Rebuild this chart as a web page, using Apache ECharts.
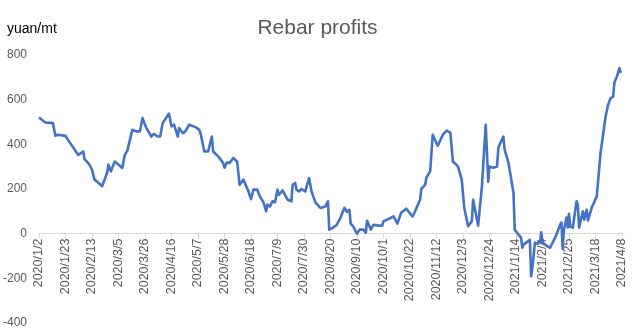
<!DOCTYPE html>
<html>
<head>
<meta charset="utf-8">
<script src="https://cdn.jsdelivr.net/npm/echarts@6/dist/echarts.min.js"></script>
<style>
  html, body { margin: 0; padding: 0; background: #fff; }
  #chart { width: 635px; height: 335px; }
</style>
</head>
<body>
<div id="chart"></div>
<script>
// Rebar profit series, yuan per tonne
const dates = [
  '2020/1/2','2020/1/7','2020/1/13','2020/1/15','2020/1/17','2020/1/23','2020/1/25',
  '2020/2/2','2020/2/3','2020/2/6','2020/2/7','2020/2/11','2020/2/13','2020/2/15','2020/2/18',
  '2020/2/21','2020/2/25','2020/2/26','2020/2/28','2020/3/2','2020/3/5','2020/3/8','2020/3/10',
  '2020/3/12','2020/3/16','2020/3/19','2020/3/22','2020/3/24','2020/3/27','2020/3/31','2020/4/2',
  '2020/4/5','2020/4/7','2020/4/9','2020/4/14','2020/4/16','2020/4/18','2020/4/21','2020/4/22',
  '2020/4/25','2020/4/27','2020/4/30','2020/5/5','2020/5/8','2020/5/9','2020/5/12','2020/5/15',
  '2020/5/18','2020/5/19','2020/5/23','2020/5/27','2020/5/28','2020/5/30','2020/6/1','2020/6/4',
  '2020/6/7','2020/6/8','2020/6/9','2020/6/12','2020/6/16','2020/6/18','2020/6/20','2020/6/23',
  '2020/6/25','2020/6/28','2020/6/30','2020/7/1','2020/7/3','2020/7/5','2020/7/7','2020/7/9',
  '2020/7/10','2020/7/13','2020/7/17','2020/7/20','2020/7/21','2020/7/23','2020/7/24','2020/7/26',
  '2020/7/28','2020/7/31','2020/8/3','2020/8/5','2020/8/6','2020/8/8','2020/8/12','2020/8/16',
  '2020/8/18','2020/8/19','2020/8/22','2020/8/25','2020/8/28','2020/8/31','2020/9/2','2020/9/4',
  '2020/9/5','2020/9/7','2020/9/9','2020/9/10','2020/9/12','2020/9/15','2020/9/17','2020/9/18',
  '2020/9/21','2020/9/23','2020/9/27','2020/9/30','2020/10/1','2020/10/9','2020/10/12','2020/10/15',
  '2020/10/19','2020/10/24','2020/10/26','2020/10/30','2020/10/31','2020/11/3','2020/11/4','2020/11/7',
  '2020/11/9','2020/11/13','2020/11/17','2020/11/20','2020/11/23','2020/11/25','2020/11/29','2020/12/2',
  '2020/12/4','2020/12/7','2020/12/10','2020/12/11','2020/12/15','2020/12/18','2020/12/21','2020/12/23',
  '2020/12/24','2020/12/27','2020/12/30','2020/12/31','2021/1/1','2021/1/4','2021/1/5','2021/1/8',
  '2021/1/12','2021/1/13','2021/1/16','2021/1/18','2021/1/19','2021/1/20','2021/1/25','2021/1/26',
  '2021/1/27','2021/1/29','2021/1/31','2021/2/2','2021/2/3','2021/2/4','2021/2/8','2021/2/10',
  '2021/2/14','2021/2/18','2021/2/19','2021/2/20','2021/2/21','2021/2/23','2021/2/24','2021/2/25',
  '2021/2/26','2021/2/28','2021/3/3','2021/3/4','2021/3/5','2021/3/7','2021/3/8','2021/3/9',
  '2021/3/11','2021/3/12','2021/3/15','2021/3/19','2021/3/22','2021/3/23','2021/3/24','2021/3/26',
  '2021/3/28','2021/3/30','2021/4/1','2021/4/2','2021/4/4','2021/4/6','2021/4/7'
];
const profits = [
  520,498,495,438,443,438,420,
  353,346,368,335,309,286,242,228,
  212,273,309,279,323,309,294,353,
  372,465,458,458,518,474,435,447,
  435,435,495,538,480,488,435,473,
  450,458,488,477,465,450,368,368,
  435,368,346,316,295,319,316,339,
  323,318,219,242,189,155,197,197,
  167,139,100,130,122,145,140,197,
  174,194,152,145,219,227,197,189,
  200,189,249,189,197,140,115,122,
  145,18,27,40,72,116,98,107,
  45,33,10,0,18,18,4,58,
  18,40,36,36,55,77,45,94,
  112,77,100,152,201,219,251,280,
  443,394,443,461,452,323,301,242,
  116,33,55,152,36,212,488,233,
  301,295,301,385,398,435,376,318,
  183,18,-4,-18,-63,-49,-27,-191,
  -152,-40,-45,-40,6,-40,-57,-63,
  -18,40,50,-67,18,72,27,89,
  31,27,145,130,27,77,100,63,
  107,59,116,167,362,368,443,525,
  577,607,614,678,704,741,720
];

// Date axis: day counts from the first trading day, labelled every 21 days
const axisStart = '2020/1/2';
const axisEnd = '2021/4/8';
const labelStepDays = 21;
const yTicks = [-400, -200, 0, 200, 400, 600, 800];

const DAY = 86400000;
function toUTC(s) {
  const p = s.split('/').map(Number);
  return Date.UTC(p[0], p[1] - 1, p[2]);
}
const t0 = toUTC(axisStart);
const span = Math.round((toUTC(axisEnd) - t0) / DAY);
function dayLabel(v) {
  const d = new Date(t0 + Math.round(v) * DAY);
  return d.getUTCFullYear() + '/' + (d.getUTCMonth() + 1) + '/' + d.getUTCDate();
}
const seriesData = dates.map((s, i) => [Math.round((toUTC(s) - t0) / DAY), profits[i]]);

// Plot box; the date axis is lifted from the bottom edge up to the zero line
const gridTop = 55, gridBottom = 12, chartH = 335;
const yMin = yTicks[0], yMax = yTicks[yTicks.length - 1];
const plotH = chartH - gridTop - gridBottom;
const zeroLift = plotH * (0 - yMin) / (yMax - yMin);

const chart = echarts.init(document.getElementById('chart'), null, { renderer: 'canvas' });
chart.setOption({
  animation: false,
  backgroundColor: '#ffffff',
  title: [
    {
      text: 'Rebar profits',
      left: 'center',
      top: 13,
      textStyle: { fontFamily: 'Liberation Sans', fontSize: 21, fontWeight: 'normal', color: '#595959' }
    },
    {
      text: 'yuan/mt',
      left: 2,
      top: 17,
      textStyle: { fontFamily: 'Liberation Sans', fontSize: 14, fontWeight: 'normal', color: '#000000' }
    }
  ],
  grid: { left: 39, right: 13, top: gridTop, bottom: gridBottom, containLabel: false, outerBoundsMode: 'none' },
  xAxis: {
    type: 'value',
    position: 'bottom',
    offset: -zeroLift,
    min: 0,
    max: span,
    interval: labelStepDays,
    axisLine: { show: true, onZero: false, lineStyle: { color: '#d9d9d9', width: 1 } },
    axisTick: { show: true, length: 5, lineStyle: { color: '#d9d9d9' } },
    splitLine: { show: false },
    axisLabel: {
      rotate: 90,
      margin: 5,
      color: '#595959',
      fontFamily: 'Liberation Sans',
      fontSize: 12.5,
      showMinLabel: true,
      showMaxLabel: true,
      hideOverlap: false,
      formatter: dayLabel
    }
  },
  yAxis: {
    type: 'value',
    min: yMin,
    max: yMax,
    interval: 200,
    axisLine: { show: false },
    axisTick: { show: false },
    splitLine: { show: false },
    axisLabel: {
      margin: 12,
      color: '#595959',
      fontFamily: 'Liberation Sans',
      fontSize: 12
    }
  },
  series: [{
    type: 'line',
    data: seriesData,
    showSymbol: false,
    symbol: 'none',
    z: 3,
    lineStyle: { color: '#4472C4', width: 2.6, join: 'round' },
    itemStyle: { color: '#4472C4' }
  }]
});
</script>
</body>
</html>
